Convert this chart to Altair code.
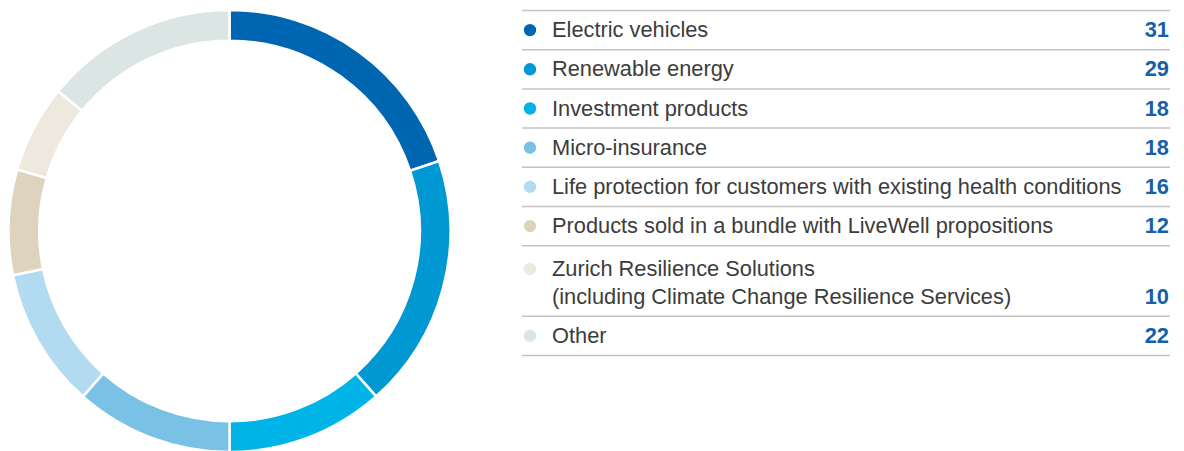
import altair as alt
import pandas as pd

categories = [
    "Electric vehicles",
    "Renewable energy",
    "Investment products",
    "Micro-insurance",
    "Life protection for customers with existing health conditions",
    "Products sold in a bundle with LiveWell propositions",
    "Zurich Resilience Solutions\n(including Climate Change Resilience Services)",
    "Other",
]
values = [31, 29, 18, 18, 16, 12, 10, 22]
colors = ["#0066B2", "#0098D3", "#00B4E8", "#7AC1E6", "#B2DBF1", "#DED4BE", "#EDE9DF", "#DAE5E4"]

FONT = "Liberation Sans"
FS = 21.8
ROW_H = 39.2
EXTRA_ROW = 31.3
LINE_H = 28
TOP = 1.5
TABLE_W = 648
H = 444

arc_df = pd.DataFrame({
    "idx": list(range(len(values))),
    "category": [c.replace("\n", " ") for c in categories],
    "value": values,
    "color": colors,
})

rule_rows = [{"y": TOP}]
dot_rows, label_rows, value_rows = [], [], []
y = TOP
for i, (c, v, col) in enumerate(zip(categories, values, colors)):
    lines = c.split("\n")
    n = len(lines)
    h = ROW_H + EXTRA_ROW * (n - 1)
    centers = [y + h / 2 + (j - (n - 1) / 2) * LINE_H + (2 if n > 1 else 0) for j in range(n)]
    for j, t in enumerate(lines):
        label_rows.append({"y": centers[j], "text": t})
    dot_rows.append({"y": centers[0], "color": col})
    value_rows.append({"y": centers[-1], "text": str(v)})
    y += h
    rule_rows.append({"y": y})

yscale = alt.Scale(domain=[0, H], range=[0, H])

donut = alt.Chart(arc_df).mark_arc(
    innerRadius=190.3, outerRadius=221, stroke="white", strokeWidth=2.5
).encode(
    theta=alt.Theta("value:Q", stack=True),
    color=alt.Color("color:N", scale=None),
    order=alt.Order("idx:Q"),
).properties(width=453, height=H)

rules = alt.Chart(pd.DataFrame(rule_rows)).mark_rule(color="#c4c4c4", strokeWidth=1.5).encode(
    x=alt.value(0), x2=alt.value(TABLE_W), y=alt.Y("y:Q", scale=yscale, axis=None)
)
dots = alt.Chart(pd.DataFrame(dot_rows)).mark_circle(size=154, opacity=1).encode(
    x=alt.value(8), y=alt.Y("y:Q", scale=yscale, axis=None), color=alt.Color("color:N", scale=None)
)
labels = alt.Chart(pd.DataFrame(label_rows)).mark_text(
    align="left", baseline="middle", font=FONT, fontSize=FS, color="#3c3c3c"
).encode(x=alt.value(30), y=alt.Y("y:Q", scale=yscale, axis=None), text="text:N")
vals = alt.Chart(pd.DataFrame(value_rows)).mark_text(
    align="right", baseline="middle", font=FONT, fontSize=FS, fontWeight="bold", color="#1560A8"
).encode(x=alt.value(TABLE_W - 1), y=alt.Y("y:Q", scale=yscale, axis=None), text="text:N")

table = alt.layer(rules, dots, labels, vals).properties(width=TABLE_W, height=H)

chart = alt.hconcat(donut, table, spacing=65).properties(
    padding={"left": -5, "top": -3, "right": 0, "bottom": 0}
).configure_view(stroke=None)

chart.save("out.html", embed_options={"renderer": "svg", "actions": False})
